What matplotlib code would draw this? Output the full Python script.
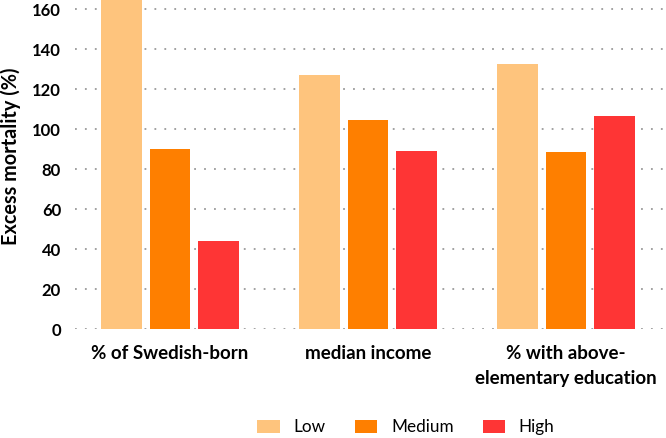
import matplotlib
matplotlib.use("Agg")
import matplotlib.pyplot as plt
import numpy as np

plt.rcParams["font.family"] = ["Lato", "DejaVu Sans"]

categories = ["% of Swedish-born", "median income", "% with above-\nelementary education"]
levels = ["Low", "Medium", "High"]
low = [175, 127.2, 132.5]
medium = [90.2, 104.8, 88.6]
high = [44.3, 89.1, 106.8]
colors = ["#FEC47D", "#FE7F00", "#FE3535"]

fig = plt.figure(figsize=(6.66, 4.38), dpi=100)
ax = fig.add_axes([0.1126, 0.248, 0.8874, 0.752])

x = np.arange(len(categories))
step = 0.245
width = 0.203
for i, (vals, name, c) in enumerate(zip([low, medium, high], levels, colors)):
    ax.bar(x + (i - 1) * step, vals, width=width, color=c, label=name, zorder=2)

ax.set_xlim(-0.48, 2.505)
ax.set_ylim(0, 164.6)
ax.set_yticks(range(0, 161, 20))
ax.yaxis.grid(True, linestyle=(0, (1, 4.5)), color="#9a9a9a", linewidth=1.3, zorder=0)
ax.set_axisbelow(True)
for s in ax.spines.values():
    s.set_visible(False)
ax.tick_params(axis="both", length=0)
ax.tick_params(axis="y", pad=10, labelsize=12)
ax.tick_params(axis="x", pad=11, labelsize=13.5)
for lab in ax.get_yticklabels():
    lab.set_fontweight("bold")
ax.set_xticks(x)
ax.set_xticklabels(categories, fontweight="bold", linespacing=1.6)
ax.set_ylabel("Excess mortality (%)", fontweight="bold", fontsize=14.3)
ax.yaxis.set_label_coords(-0.091, 0.526)

fig.legend(loc="center", bbox_to_anchor=(0.6096, 0.024), ncol=3, frameon=False,
           fontsize=12.3, handlelength=1.3, handleheight=0.77, columnspacing=1.7,
           handletextpad=0.82)

fig.savefig("out.png", dpi=100)
